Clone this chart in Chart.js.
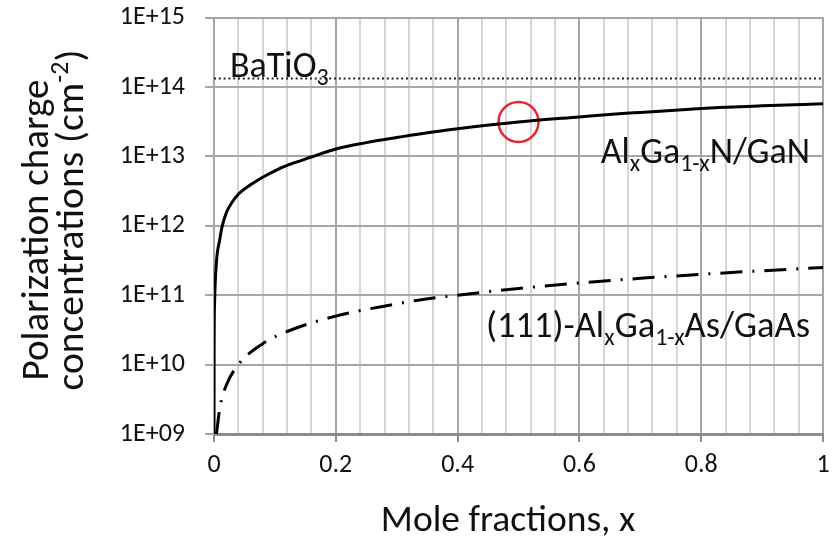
<!DOCTYPE html>
<html>
<head>
<meta charset="utf-8">
<script src="https://cdn.jsdelivr.net/npm/chart.js"></script>
<style>
  body { margin: 0; background: #fff; }
  #wrap { width: 835px; height: 541px; }
</style>
</head>
<body>
<div id="wrap"><canvas id="chartCanvas" width="835" height="541"></canvas></div>
<script>
// Values
const ganX = [0.00002, 0.0002, 0.001, 0.004, 0.0094, 0.013, 0.021, 0.03, 0.04, 0.06, 0.08, 0.1, 0.12, 0.16, 0.2, 0.25, 0.3, 0.34, 0.4, 0.5, 0.6, 0.67, 0.7, 0.8, 0.83, 0.9, 1.0];
const ganY = [1.0e9, 1.6e10, 8.0e10, 3.0e11, 6.3e11, 9.5e11, 1.6e12, 2.2e12, 2.85e12, 3.9e12, 5.0e12, 6.2e12, 7.4e12, 9.8e12, 1.28e13, 1.58e13, 1.87e13, 2.12e13, 2.5e13, 3.13e13, 3.7e13, 4.14e13, 4.3e13, 4.9e13, 5.06e13, 5.35e13, 5.75e13];

const gaasX = [0.004, 0.01, 0.02, 0.04, 0.08, 0.12, 0.2, 0.3, 0.34, 0.4, 0.5, 0.6, 0.7, 0.8, 0.9, 1.0];
const gaasY = [1.0e9, 2.5e9, 5.0e9, 1.0e10, 2.0e10, 3.0e10, 5.0e10, 7.5e10, 8.6e10, 1.0e11, 1.25e11, 1.5e11, 1.75e11, 2.0e11, 2.25e11, 2.5e11];

const batioX = [0, 1];
const batioY = [1.33e14, 1.33e14];

const markX = [0.5];
const markY = [3.13e13];

const xTickValues = [0, 0.2, 0.4, 0.6, 0.8, 1];
const xTickLabels = ['0', '0.2', '0.4', '0.6', '0.8', '1'];
const yTickValues = [1e9, 1e10, 1e11, 1e12, 1e13, 1e14, 1e15];
const yTickLabels = ['1E+09', '1E+10', '1E+11', '1E+12', '1E+13', '1E+14', '1E+15'];

const FONT = 'Carlito, Lato, sans-serif';
const TEXT = '#111';

const toPoints = (xs, ys) => xs.map((x, i) => ({ x: x, y: ys[i] }));

const majorIndex = (v) => xTickValues.findIndex(t => Math.abs(t - v) < 1e-6);

// width of a row of runs at a given size; level -1 = subscript, 1 = superscript
const runsWidth = (ctx, runs, size) => {
  const small = Math.round(size * 0.66);
  return runs.map(([t, lv]) => {
    ctx.font = `${lv ? small : size}px ${FONT}`;
    return ctx.measureText(t).width;
  });
};

// draw runs scaled so the whole row is `width` px wide
const drawRuns = (ctx, x, y, runs, width, align) => {
  let size = 30;
  const w0 = runsWidth(ctx, runs, size).reduce((a, b) => a + b, 0);
  size = Math.round(size * width / w0 * 2) / 2;
  const small = Math.round(size * 0.66);
  const widths = runsWidth(ctx, runs, size);
  const total = widths.reduce((a, b) => a + b, 0);
  let cx = x;
  if (align === 'right') cx = x - total;
  if (align === 'center') cx = x - total / 2;
  ctx.textAlign = 'left';
  ctx.textBaseline = 'alphabetic';
  runs.forEach(([t, lv], i) => {
    ctx.font = `${lv ? small : size}px ${FONT}`;
    const dy = lv === -1 ? size * 0.22 : lv === 1 ? -size * 0.38 : 0;
    ctx.fillText(t, cx, y + dy);
    cx += widths[i];
  });
};

const textPlugin = {
  id: 'textPlugin',
  afterDraw(chart) {
    const ctx = chart.ctx;
    ctx.save();
    ctx.fillStyle = TEXT;

    // labels inside the plot
    drawRuns(ctx, 230, 77, [['BaTiO', 0], ['3', -1]], 98, 'left');
    drawRuns(ctx, 810, 163, [['Al', 0], ['x', -1], ['Ga', 0], ['1-x', -1], ['N/GaN', 0]], 210, 'right');
    drawRuns(ctx, 810, 337, [['(111)-Al', 0], ['x', -1], ['Ga', 0], ['1-x', -1], ['As/GaAs', 0]], 325, 'right');

    // x axis title
    drawRuns(ctx, 508, 531, [['Mole fractions, x', 0]], 254, 'center');

    // y axis title, two rotated lines
    ctx.save();
    ctx.translate(48, 230);
    ctx.rotate(-Math.PI / 2);
    drawRuns(ctx, 0, 0, [['Polarization charge', 0]], 300, 'center');
    ctx.restore();
    ctx.save();
    ctx.translate(83, 220);
    ctx.rotate(-Math.PI / 2);
    drawRuns(ctx, 0, 0, [['concentrations (cm', 0], ['-2', 1], [')', 0]], 340, 'center');
    ctx.restore();

    ctx.restore();
  }
};

const ctx = document.getElementById('chartCanvas').getContext('2d');

new Chart(ctx, {
  type: 'line',
  data: {
    datasets: [
      {
        label: 'BaTiO3',
        data: toPoints(batioX, batioY),
        borderColor: '#222',
        borderWidth: 2,
        borderDash: [2, 2.8],
        pointRadius: 0
      },
      {
        label: 'AlGaN/GaN',
        data: toPoints(ganX, ganY),
        borderColor: '#000',
        borderWidth: 3,
        pointRadius: 0,
        cubicInterpolationMode: 'monotone'
      },
      {
        label: '(111)-AlGaAs/GaAs',
        data: toPoints(gaasX, gaasY),
        borderColor: '#000',
        borderWidth: 3,
        borderDash: [22, 10, 2, 10],
        pointRadius: 0,
        cubicInterpolationMode: 'monotone'
      },
      {
        label: 'mark',
        data: toPoints(markX, markY),
        showLine: false,
        pointRadius: 20,
        pointBorderWidth: 2.5,
        pointBorderColor: '#e8262d',
        pointBackgroundColor: 'rgba(0,0,0,0)'
      }
    ]
  },
  options: {
    responsive: false,
    animation: false,
    layout: {
      autoPadding: false,
      padding: { top: 17.6, right: 12, left: 0, bottom: 0 }
    },
    plugins: {
      legend: { display: false },
      tooltip: { enabled: false }
    },
    scales: {
      x: {
        type: 'linear',
        min: 0,
        max: 1,
        afterBuildTicks: (s) => {
          s.ticks = s.ticks.map(t => ({ value: Math.round(t.value * 100) / 100 }));
        },
        afterFit: (s) => {
          s.height = 107;
          s.paddingLeft = 0;
          s.paddingRight = 0;
        },
        ticks: {
          stepSize: 0.04,
          autoSkip: false,
          maxRotation: 0,
          padding: 8,
          color: TEXT,
          font: { family: FONT, size: 26 },
          callback: (v) => {
            const i = majorIndex(v);
            return i >= 0 ? xTickLabels[i] : '';
          }
        },
        grid: {
          color: (c) => majorIndex(c.tick.value) >= 0 ? '#a6a6a6' : '#d6d6d6',
          lineWidth: 2,
          tickLength: 8,
          tickColor: (c) => majorIndex(c.tick.value) >= 0 ? '#8c8c8c' : 'rgba(0,0,0,0)'
        },
        border: { color: '#8c8c8c', width: 3 }
      },
      y: {
        type: 'logarithmic',
        min: 1e9,
        max: 1e15,
        afterBuildTicks: (s) => {
          s.ticks = yTickValues.map(v => ({ value: v }));
        },
        afterFit: (s) => {
          s.width = 214;
          s.paddingTop = 0;
          s.paddingBottom = 0;
        },
        ticks: {
          padding: 20,
          color: TEXT,
          font: { family: FONT, size: 26 },
          callback: (v, i) => yTickLabels[i]
        },
        grid: {
          color: '#a6a6a6',
          lineWidth: 2,
          tickLength: 9,
          tickColor: '#a6a6a6'
        },
        border: { color: '#a6a6a6', width: 2 }
      }
    }
  },
  plugins: [textPlugin]
});
</script>
</body>
</html>
